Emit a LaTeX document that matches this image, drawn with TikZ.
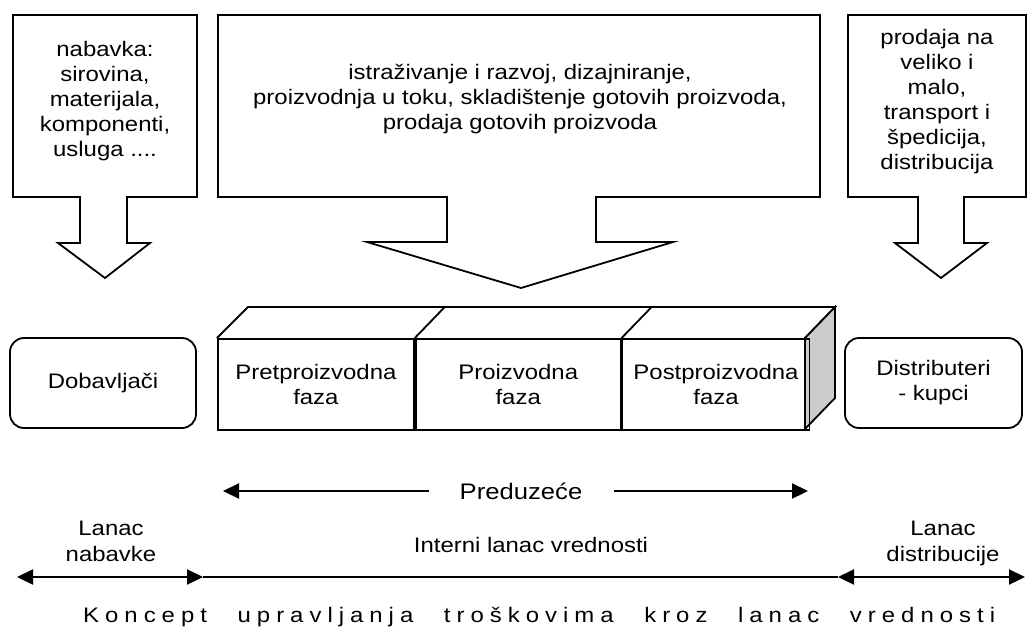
\documentclass[tikz,border=0pt]{standalone}
\usepackage{fontspec}
\setmainfont{Liberation Sans}[FakeStretch=1.14]
\usetikzlibrary{arrows.meta}
\makeatletter
% letter-spaced word: a fixed kern after every character
\newcommand\spacedword[1]{\@tfor\sw@ch:=#1\do{\sw@ch\kern6pt}}
\makeatother
\newcommand\wordgap{\hspace{24.6pt}}

\begin{document}
\begin{tikzpicture}[x=1pt, y=-1pt,
  every node/.style={inner sep=0pt, align=center, font=\fontsize{21}{25}\selectfont},
  outline/.style={draw=black, line width=1.8pt, line join=miter},
  phase/.style={outline, rectangle, minimum height=91pt},
  party/.style={outline, rectangle, rounded corners=14pt, minimum height=90pt},
  bigtip/.style={line width=2.2pt, {Triangle[length=16pt,width=15pt]}-{Triangle[length=16pt,width=15pt]}},
  onetip/.style={line width=2.2pt, -{Triangle[length=16pt,width=15pt]}},
  label/.style={font=\fontsize{21}{26}\selectfont}]

\useasboundingbox (0,0) rectangle (1027,626);

% ---- block arrows (callouts) on top
\draw[outline, fill=white] (13,15) -- (197,15) -- (197,197) -- (127,197) -- (127,243)
  -- (150,243) -- (105,278) -- (58,243) -- (80,243) -- (80,197) -- (13,197) -- cycle;
\draw[outline, fill=white] (218,15) -- (820,15) -- (820,197) -- (596,197) -- (596,242)
  -- (673,242) -- (521,288) -- (367,242) -- (447,242) -- (447,197) -- (218,197) -- cycle;
\draw[outline, fill=white] (848,15) -- (1026,15) -- (1026,197) -- (964,197) -- (964,243)
  -- (987,243) -- (941,278) -- (895,243) -- (918,243) -- (918,197) -- (848,197) -- cycle;

\node[anchor=north] (nabavka) at (105,41)
  {nabavka:\\sirovina,\\materijala,\\komponenti,\\usluga ....};
\node[anchor=north] (aktivnosti) at (520,64)
  {istraživanje i razvoj, dizajniranje,\\proizvodnja u toku, skladištenje gotovih proizvoda,\\prodaja gotovih proizvoda};
\node[anchor=north] (prodaja) at (937,29)
  {prodaja na\\veliko i\\malo,\\transport i\\špedicija,\\distribucija};

% ---- enterprise block drawn as a box
\draw[outline] (217,338) -- (248,307) -- (835,307) -- (805,338);
\draw[outline, fill=gray!40] (805,338) -- (835,307) -- (835,398) -- (805,429) -- cycle;
\node[phase, minimum width=196pt, anchor=north west] (pre) at (217,338) {Pretproizvodna\\faza};
\node[phase, minimum width=205pt, anchor=north west] (pro) at (pre.north east) {Proizvodna\\faza};
\node[phase, minimum width=187pt, anchor=north west] (post) at (pro.north east) {Postproizvodna\\faza};
\draw[outline] (pro.north west) -- ++(30,-31);
\draw[outline] (post.north west) -- ++(30,-31);

\node[party, minimum width=186pt] (dob) at (103,383) {Dobavljači};
\node[party, minimum width=177pt] (dist) at (933.5,383) {Distributeri\\- kupci};

% ---- enterprise span
\node[font=\fontsize{22.5}{27}\selectfont] (pred) at (521,491) {Preduzeće};
\coordinate (predL) at (223,491);
\coordinate (predR) at (808,491);
\draw[onetip] ([xshift=-30pt]pred.west) -- (predL);
\draw[onetip] ([xshift=31pt]pred.east) -- (predR);

% ---- chain spans
\node[label, anchor=north] (lnab) at (111,521) {Lanac\\nabavke};
\node[label] (intern) at (531,545) {Interni lanac vrednosti};
\node[label, anchor=north] (ldist) at (943,521) {Lanac\\distribucije};

\coordinate (c0) at (17,577);
\coordinate (c1) at (203,577);
\coordinate (c2) at (838,577);
\coordinate (c3) at (1025,577);
\draw[line width=1.2pt] (c1) -- (c2);
\draw[bigtip] (c0) -- (c1);
\draw[bigtip] (c2) -- (c3);

\node[anchor=base west] (naslov) at (83,622)
  {\spacedword{Koncept}\wordgap\spacedword{upravljanja}\wordgap\spacedword{troškovima}\wordgap\spacedword{kroz}\wordgap\spacedword{lanac}\wordgap\spacedword{vrednosti}};
\end{tikzpicture}
\end{document}
